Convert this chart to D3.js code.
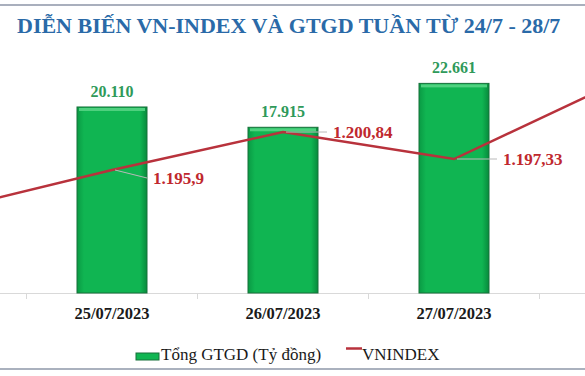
<!DOCTYPE html>
<html>
<head>
<meta charset="utf-8">
<script src="https://cdn.jsdelivr.net/npm/d3@7"></script>
<style>
  body { margin: 0; background: #fff; }
  svg { display: block; font-family: "Liberation Serif", "Times New Roman", serif; }
</style>
</head>
<body>
<div id="chart"></div>
<script>
var width = 585, height = 376;

// data (the view is cropped: 24/07 and 28/07 sit just outside the frame)
var days = ['24/07/2023', '25/07/2023', '26/07/2023', '27/07/2023', '28/07/2023'];
var gtgd = [null, 20110, 17915, 22661, null];
var vnindex = [1190.5, 1195.9, 1200.84, 1197.33, 1207.8];
var barLabels = ['', '20.110', '17.915', '22.661', ''];
var lineLabels = ['', '1.195,9', '1.200,84', '1.197,33', ''];
var shownDays = ['25/07/2023', '26/07/2023', '27/07/2023'];

var svg = d3.select('#chart').append('svg')
    .attr('width', width)
    .attr('height', height);

var defs = svg.append('defs');
var grad = defs.append('linearGradient').attr('id', 'barGrad')
    .attr('x1', 0).attr('x2', 1).attr('y1', 0).attr('y2', 0);
grad.append('stop').attr('offset', '0%').attr('stop-color', '#0a9a44');
grad.append('stop').attr('offset', '10%').attr('stop-color', '#10b552');
grad.append('stop').attr('offset', '90%').attr('stop-color', '#10b552');
grad.append('stop').attr('offset', '100%').attr('stop-color', '#088a3c');

var x = d3.scalePoint()
    .domain(days)
    .range([-59, 625]);
var step = x.step();
var barW = 70;

var y = d3.scaleLinear()
    .domain([0, 25000])
    .range([293, 61.75]);

var y2 = d3.scaleLinear()
    .domain([1185, 1210])
    .range([253.8, 61.6]);

// frame lines
svg.append('line')
    .attr('x1', 0).attr('x2', width).attr('y1', 5).attr('y2', 5)
    .attr('stroke', '#a9afbd').attr('stroke-width', 2);
svg.append('line')
    .attr('x1', 0).attr('x2', width).attr('y1', 369).attr('y2', 369)
    .attr('stroke', '#8e97a8').attr('stroke-width', 1.5);

// title
svg.append('text')
    .attr('x', 17)
    .attr('y', 33)
    .attr('fill', '#2a6aa8')
    .attr('font-weight', 'bold')
    .attr('font-size', 22)
    .text('DIỄN BIẾN VN-INDEX VÀ GTGD TUẦN TỪ 24/7 - 28/7');

// category axis
svg.append('line')
    .attr('x1', 0).attr('x2', width).attr('y1', 293.5).attr('y2', 293.5)
    .attr('stroke', '#d9d9d9');
var bounds = days.slice(1).map(function(d) { return x(d) - step / 2; });
svg.selectAll('.tick')
    .data(bounds)
    .enter().append('line')
    .attr('x1', function(d) { return d; })
    .attr('x2', function(d) { return d; })
    .attr('y1', 293.5).attr('y2', 299)
    .attr('stroke', '#d9d9d9');
svg.selectAll('.day')
    .data(shownDays)
    .enter().append('text')
    .attr('x', function(d) { return x(d); })
    .attr('y', 319)
    .attr('text-anchor', 'middle')
    .attr('font-weight', 'bold')
    .attr('font-size', 16.5)
    .attr('fill', '#1a1a1a')
    .text(function(d) { return d; });

// bars
var barData = days.map(function(d, i) { return { day: d, v: gtgd[i], label: barLabels[i] }; })
    .filter(function(d) { return d.v !== null; });

var bars = svg.append('g');
bars.selectAll('rect')
    .data(barData)
    .enter().append('rect')
    .attr('x', function(d) { return x(d.day) - barW / 2; })
    .attr('y', function(d) { return y(d.v); })
    .attr('width', barW)
    .attr('height', function(d) { return y(0) - y(d.v); })
    .attr('fill', 'url(#barGrad)')
    .attr('stroke', '#17703a')
    .attr('stroke-width', 1);
// bevel highlight along the top
bars.selectAll('.hl')
    .data(barData)
    .enter().append('rect')
    .attr('x', function(d) { return x(d.day) - barW / 2 + 2; })
    .attr('y', function(d) { return y(d.v) + 1; })
    .attr('width', barW - 4)
    .attr('height', 3)
    .attr('fill', '#4fd17f');

svg.selectAll('.barlabel')
    .data(barData)
    .enter().append('text')
    .attr('x', function(d) { return x(d.day); })
    .attr('y', function(d) { return y(d.v) - 10; })
    .attr('text-anchor', 'middle')
    .attr('font-weight', 'bold')
    .attr('font-size', 16)
    .attr('fill', '#2f9a5a')
    .text(function(d) { return d.label; });

// VN-Index line
var lineData = days.map(function(d, i) { return { day: d, v: vnindex[i], label: lineLabels[i] }; });
var line = d3.line()
    .x(function(d) { return x(d.day); })
    .y(function(d) { return y2(d.v); });

svg.append('path')
    .datum(lineData)
    .attr('d', line)
    .attr('fill', 'none')
    .attr('stroke', '#b8323c')
    .attr('stroke-width', 2.5);

// leader lines + labels
var shown = lineData.filter(function(d) { return d.label; });
var offs = [[35, 8], [44, 0], [43, 0]];
svg.selectAll('.leader')
    .data(shown)
    .enter().append('line')
    .attr('x1', function(d) { return x(d.day) + 3; })
    .attr('y1', function(d) { return y2(d.v); })
    .attr('x2', function(d, i) { return x(d.day) + offs[i][0]; })
    .attr('y2', function(d, i) { return y2(d.v) + offs[i][1]; })
    .attr('stroke', '#b9b9b9')
    .attr('stroke-width', 1);
svg.selectAll('.vlabel')
    .data(shown)
    .enter().append('text')
    .attr('x', function(d, i) { return x(d.day) + offs[i][0] + 6; })
    .attr('y', function(d, i) { return y2(d.v) + offs[i][1] + 6; })
    .attr('font-weight', 'bold')
    .attr('font-size', 17)
    .attr('fill', '#c0282e')
    .text(function(d) { return d.label; });

// legend
var lg = svg.append('g').attr('transform', 'translate(136,0)');
lg.append('rect')
    .attr('x', 0).attr('y', 353).attr('width', 23).attr('height', 7)
    .attr('fill', '#10b552').attr('stroke', '#17703a');
lg.append('text')
    .attr('x', 25).attr('y', 360)
    .attr('font-size', 17)
    .attr('fill', '#1a1a1a')
    .text('Tổng GTGD (Tỷ đồng)');
lg.append('line')
    .attr('x1', 210).attr('x2', 226).attr('y1', 348.5).attr('y2', 348.5)
    .attr('stroke', '#b8323c').attr('stroke-width', 2.5);
lg.append('text')
    .attr('x', 226).attr('y', 360)
    .attr('font-size', 17)
    .attr('fill', '#1a1a1a')
    .text('VNINDEX');
</script>
</body>
</html>
